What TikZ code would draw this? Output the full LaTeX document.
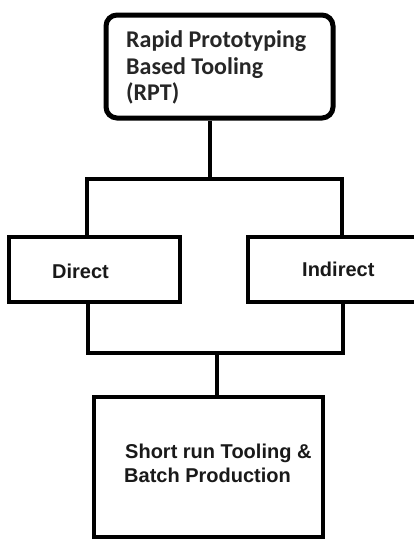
\documentclass[tikz,border=0pt]{standalone}
\usepackage{fontspec}
\setmainfont{Liberation Sans}
\newfontfamily\calfont{Carlito}
\begin{document}
\begin{tikzpicture}[x=1pt,y=-1pt,
  boxstyle/.style={draw=black, line width=3.6pt, fill=white, inner sep=0pt, line join=miter},
  topbox/.style={draw=black, line width=5pt, rounded corners=11pt, fill=white, inner sep=0pt},
  conn/.style={draw=black, line width=3.6pt, line join=miter},
  toptext/.style={anchor=base west, inner sep=0pt, font=\calfont\bfseries\fontsize{24}{28}\selectfont, text=black!85},
  lbl/.style={anchor=base west, inner sep=0pt, font=\bfseries\fontsize{20}{24}\selectfont, text=black!90}]
\useasboundingbox[fill=white] (0,0) rectangle (414,539);
% boxes
\node[topbox, minimum width=227pt, minimum height=103pt] (rpt) at (219.5,66.5) {};
\node[boxstyle, minimum width=171pt, minimum height=65pt] (direct) at (94.5,269.5) {};
\node[boxstyle, minimum width=182pt, minimum height=65pt] (indirect) at (339,269.5) {};
\node[boxstyle, minimum width=229pt, minimum height=140pt] (batch) at (208.5,467) {};
% texts
\node[toptext] (t1) at (126,47) {Rapid Prototyping};
\node[toptext] (t2) at (126,74) {Based Tooling};
\node[toptext] (t3) at (126,100) {(RPT)};
\node[lbl] (dl) at (52,278) {Direct};
\node[lbl] (il) at (302,276) {Indirect};
\node[lbl] (b1) at (125,458) {Short run Tooling \&};
\node[lbl] (b2) at (124,482) {Batch Production};
% connector points
\coordinate (j1) at (210,179);
\coordinate (busL) at (87,179);
\coordinate (busR) at (342,179);
\coordinate (lowL) at (88,353);
\coordinate (lowR) at (343,353);
\coordinate (lowM) at (217,353);
% connectors
\draw[conn] (rpt.south -| j1) -- (j1);
\draw[conn] (direct.north -| busL) -- (busL) -- (busR) -- (indirect.north -| busR);
\draw[conn] (direct.south -| lowL) -- (lowL) -- (lowR) -- (indirect.south -| lowR);
\draw[conn] (lowM) -- (batch.north -| lowM);
\end{tikzpicture}
\end{document}
